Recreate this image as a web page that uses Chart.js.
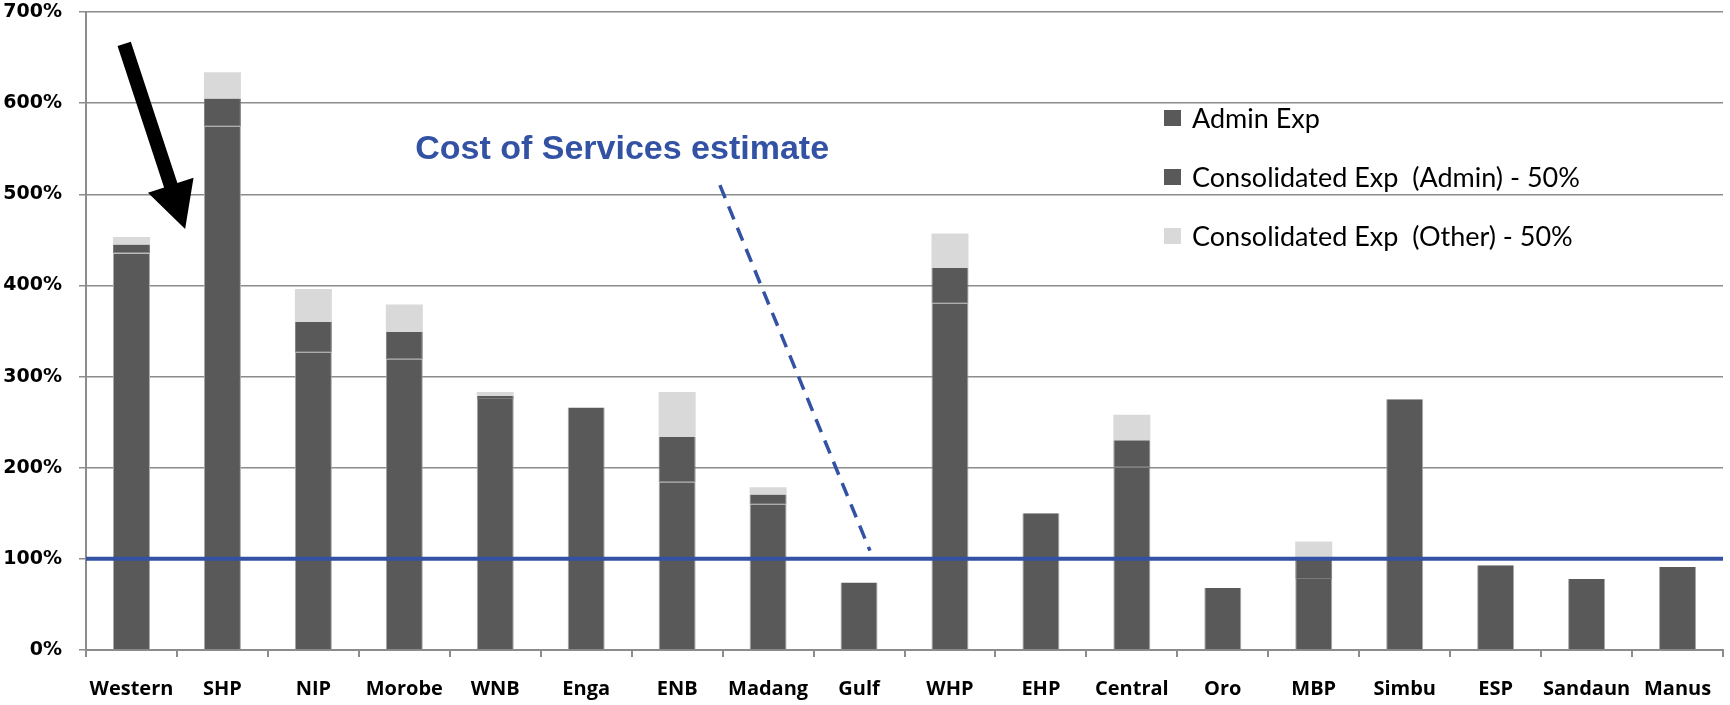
<!DOCTYPE html>
<html>
<head>
<meta charset="utf-8">
<script src="https://cdn.jsdelivr.net/npm/chart.js@4"></script>
<style>
html, body { margin: 0; padding: 0; background: #fff; }
#box { width: 1730px; height: 705px; }
</style>
</head>
<body>
<div id="box"><canvas id="grafico"></canvas></div>
<script>
// dados (%)
var provincias = ['Western', 'SHP', 'NIP', 'Morobe', 'WNB', 'Enga', 'ENB', 'Madang', 'Gulf', 'WHP', 'EHP', 'Central', 'Oro', 'MBP', 'Simbu', 'ESP', 'Sandaun', 'Manus'];
var adminExp = [435, 574, 326, 319, 275.5, 266, 184, 159.5, 74, 380, 150, 200, 68, 78, 275, 93, 78, 91];
var consAdmin = [10, 31, 34, 30, 3.5, null, 50, 11, null, 39, null, 30, null, 24, null, null, null, null];
var consOutro = [8, 29, 36, 30, 4, null, 49, 8, null, 38, null, 28, null, 17, null, null, null, null];
var nomesSeries = ['Admin Exp', 'Consolidated Exp  (Admin) - 50%', 'Consolidated Exp  (Other) - 50%'];
var ticksY = [0, 100, 200, 300, 400, 500, 600, 700];
var linhaCusto = 100;
var textoCusto = 'Cost of Services estimate';

// pontos das anotacoes em unidades do grafico [indice categoria, %]
var setaInicio = [-0.08, 665], setaFim = [0.59, 462];
var tracoInicio = [6.47, 510], tracoFim = [8.12, 109];
var textoPos = [3.12, 549];

var azul = '#3352A4';
var cinzaGrade = '#8c8c8c';

var extras = {
    id: 'extras',
    afterDatasetsDraw: function (chart) {
        var ctx = chart.ctx;
        var sx = chart.scales.x, sy = chart.scales.y, area = chart.chartArea;
        function px(p) { return [sx.getPixelForValue(p[0]), sy.getPixelForValue(p[1])]; }

        ctx.save();
        // linha dos 100%
        var y100 = sy.getPixelForValue(linhaCusto);
        ctx.strokeStyle = azul;
        ctx.lineWidth = 4;
        ctx.beginPath();
        ctx.moveTo(area.left, y100);
        ctx.lineTo(area.right, y100);
        ctx.stroke();

        // linha tracejada
        var a = px(tracoInicio), b = px(tracoFim);
        ctx.setLineDash([14, 9]);
        ctx.lineWidth = 3.5;
        ctx.beginPath();
        ctx.moveTo(a[0], a[1]);
        ctx.lineTo(b[0], b[1]);
        ctx.stroke();
        ctx.setLineDash([]);

        // texto
        var t = px(textoPos);
        ctx.fillStyle = azul;
        ctx.font = 'bold 34px "Liberation Sans", Arial, sans-serif';
        ctx.textAlign = 'left';
        ctx.textBaseline = 'middle';
        ctx.fillText(textoCusto, t[0], t[1]);

        // seta preta
        var p0 = px(setaInicio), p1 = px(setaFim);
        var dx = p1[0] - p0[0], dy = p1[1] - p0[1];
        var len = Math.sqrt(dx * dx + dy * dy);
        var ux = dx / len, uy = dy / len, nx = -uy, ny = ux;
        var hx = p1[0] - ux * 46, hy = p1[1] - uy * 46;
        ctx.fillStyle = '#000';
        ctx.beginPath();
        ctx.moveTo(p0[0] + nx * 7, p0[1] + ny * 7);
        ctx.lineTo(hx + nx * 7, hy + ny * 7);
        ctx.lineTo(hx + nx * 24, hy + ny * 24);
        ctx.lineTo(p1[0], p1[1]);
        ctx.lineTo(hx - nx * 24, hy - ny * 24);
        ctx.lineTo(hx - nx * 7, hy - ny * 7);
        ctx.lineTo(p0[0] - nx * 7, p0[1] - ny * 7);
        ctx.closePath();
        ctx.fill();

        // legenda
        ctx.font = '27px Lato, sans-serif';
        ctx.textBaseline = 'middle';
        chart.data.datasets.forEach(function (ds, i) {
            var ly = 118 + i * 59;
            ctx.fillStyle = ds.backgroundColor;
            ctx.fillRect(1164, ly - 8, 17, 16);
            ctx.fillStyle = '#000';
            ctx.fillText(ds.label, 1192, ly + 1);
        });
        ctx.restore();
    }
};

var ctx = document.getElementById('grafico').getContext('2d');
var grafico = new Chart(ctx, {
    type: 'bar',
    data: {
        labels: provincias,
        datasets: [
            {
                label: nomesSeries[0],
                data: adminExp,
                backgroundColor: '#595959',
                borderColor: '#a8a8a8',
                borderWidth: { top: 0, left: 1, right: 1, bottom: 0 },
                borderSkipped: false
            },
            {
                label: nomesSeries[1],
                data: consAdmin,
                backgroundColor: '#595959',
                borderColor: '#7a7a7a',
                borderWidth: { top: 0, left: 1, right: 1, bottom: 1 },
                borderSkipped: false
            },
            {
                label: nomesSeries[2],
                data: consOutro,
                backgroundColor: '#D9D9D9',
                borderWidth: 0
            }
        ]
    },
    plugins: [extras],
    options: {
        responsive: true,
        maintainAspectRatio: false,
        animation: false,
        categoryPercentage: 1,
        barPercentage: 0.407,
        layout: { padding: { top: 12, right: 7, left: 0, bottom: 0 } },
        plugins: {
            legend: { display: false },
            tooltip: { enabled: false }
        },
        scales: {
            x: {
                stacked: true,
                grid: {
                    offset: true,
                    drawOnChartArea: false,
                    color: cinzaGrade,
                    lineWidth: 2,
                    tickLength: 7
                },
                border: { color: cinzaGrade, width: 2 },
                ticks: {
                    color: '#000',
                    padding: 20,
                    maxRotation: 0,
                    autoSkip: false,
                    font: { family: '"Open Sans"', weight: 'bold', size: 20 }
                },
                afterFit: function (s) { s.height = 55; s.paddingLeft = 0; s.paddingRight = 0; }
            },
            y: {
                stacked: true,
                min: 0,
                max: 700,
                afterBuildTicks: function (s) {
                    s.ticks = ticksY.map(function (v) { return { value: v }; });
                },
                grid: {
                    color: cinzaGrade,
                    lineWidth: 1.5,
                    tickLength: 7
                },
                border: { color: cinzaGrade, width: 2 },
                ticks: {
                    color: '#000',
                    padding: 17,
                    font: { family: '"DejaVu Sans"', weight: 'bold', size: 19 },
                    callback: function (v) { return v + '%'; }
                },
                afterFit: function (s) { s.width = 86; s.paddingTop = 0; s.paddingBottom = 0; }
            }
        }
    }
});
</script>
</body>
</html>
